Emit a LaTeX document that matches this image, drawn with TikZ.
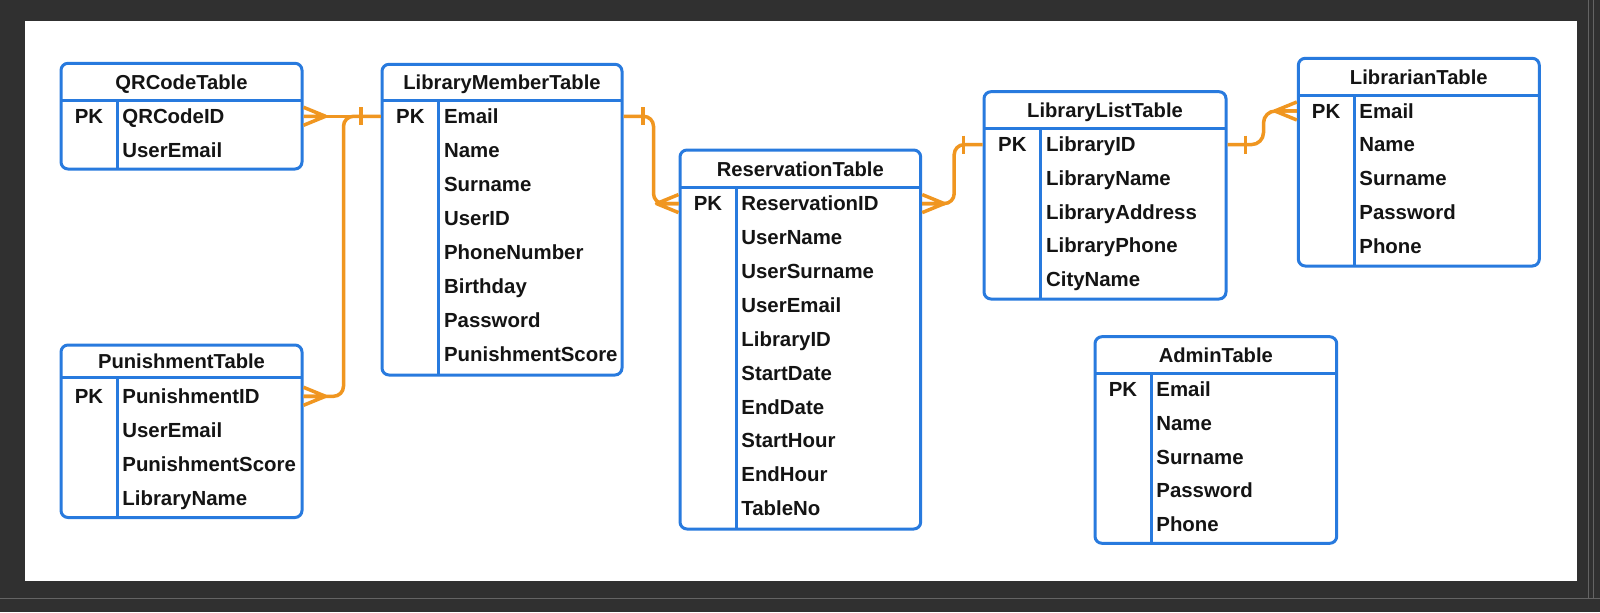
\documentclass[tikz,border=0pt]{standalone}
\usepackage{fontspec}
\setmainfont{Liberation Sans}
\usetikzlibrary{fit,calc}
\definecolor{tblblue}{RGB}{40,122,222}
\definecolor{relorange}{RGB}{240,150,32}
\definecolor{framebg}{RGB}{48,48,48}
\definecolor{framel}{RGB}{100,100,100}
\definecolor{ink}{RGB}{20,20,20}
\tikzset{
  tbl/.style={draw=tblblue, line width=1.5pt, rounded corners=3.5pt, fill=white, inner sep=0pt},
  tblline/.style={draw=tblblue, line width=1.5pt},
  hdr/.style={inner sep=0pt, text=ink, font=\fontsize{10.1pt}{12pt}\selectfont\bfseries},
  fld/.style={inner sep=0pt, text=ink, font=\fontsize{10.2pt}{12pt}\selectfont\bfseries},
  rel/.style={draw=relorange, line width=1.75pt, line join=round},
  crow/.pic={\draw[rel] (0,-9) -- (22,0) -- (0,9) (0,0) -- (22,0);},
}
\newcommand\ertable[8]{%
  \node[tbl, fit={(#2,#3)(#4,#5)}] (#1) {};
  \draw[tblline] (#2,#6) -- (#4,#6);
  \draw[tblline] (#7,#6) -- (#7,#5);
  \node[hdr, anchor=base] (#1-h) at ({(#2+#4)/2},{(#3+#6)/2+7.3}) {#8};
}
\newcommand\erfields[6]{%
  \node[fld, anchor=base] (#1-pk) at ({(#2+#3)/2},{#4+7.3}) {PK};
  \foreach \f [count=\i] in {#6}{
    \node[fld, anchor=base west] (#1-f\i) at ({#3+5},{#4+(\i-1)*#5+7.3}) {\f};
  }
}
\begin{document}
\begin{tikzpicture}[x=0.5pt,y=-0.5pt]
\useasboundingbox (0,0) rectangle (1600,612);
% window frame
\fill[framebg] (0,0) rectangle (1600,612);
\fill[white] (25,21) rectangle (1577,581);
\draw[framel, line width=0.5pt] (0,598) -- (1600,598);
\draw[framel, line width=0.5pt] (1588,0) -- (1588,598);
\draw[framel, line width=0.5pt] (1593,0) -- (1593,598);

% tables
\ertable{qr}{61}{63.3}{302}{169}{100.7}{117}{QRCodeTable}
\erfields{qr}{61}{117}{116}{34}{QRCodeID,UserEmail}

\ertable{lm}{382}{64.3}{622}{375}{100.7}{438.7}{LibraryMemberTable}
\erfields{lm}{382}{438.7}{116}{34}{Email,Name,Surname,UserID,PhoneNumber,Birthday,Password,PunishmentScore}

\ertable{pt}{61}{345}{302}{517.5}{377.6}{117}{PunishmentTable}
\erfields{pt}{61}{117}{396}{34}{PunishmentID,UserEmail,PunishmentScore,LibraryName}

\ertable{rs}{680}{150}{920.7}{529}{187.7}{736}{ReservationTable}
\erfields{rs}{680}{736}{203.3}{33.9}{ReservationID,UserName,UserSurname,UserEmail,LibraryID,StartDate,EndDate,StartHour,EndHour,TableNo}

\ertable{ll}{984}{91.7}{1226}{299}{128.3}{1040.7}{LibraryListTable}
\erfields{ll}{984}{1040.7}{144.3}{33.7}{LibraryID,LibraryName,LibraryAddress,LibraryPhone,CityName}

\ertable{lb}{1298.3}{58.3}{1539.3}{266}{95.7}{1354}{LibrarianTable}
\erfields{lb}{1298.3}{1354}{110.7}{33.75}{Email,Name,Surname,Password,Phone}

\ertable{ad}{1095}{336.7}{1336.7}{543.3}{373.3}{1151}{AdminTable}
\erfields{ad}{1095}{1151}{389.3}{33.75}{Email,Name,Surname,Password,Phone}

% relationships
\draw[rel] (qr.east |- qr-pk) -- (lm.west |- lm-pk);
\pic at (qr.east |- qr-pk) {crow};
\draw[rel] ($(lm.west |- lm-pk)+(-19.5,-9)$) -- ++(0,18);

\draw[rel, rounded corners=5pt] (pt.east |- pt-pk) -- ++(40,0) |- (lm.west |- lm-pk);
\pic at (pt.east |- pt-pk) {crow};

\draw[rel, rounded corners=5pt] (lm.east |- lm-pk) -- ++(30,0) |- (rs.west |- rs-pk);
\draw[rel] ($(lm.east |- lm-pk)+(19.5,-9)$) -- ++(0,18);
\pic[xscale=-1] at (rs.west |- rs-pk) {crow};

\draw[rel, rounded corners=5pt] (rs.east |- rs-pk) -- ++(32,0) |- (ll.west |- ll-pk);
\pic at (rs.east |- rs-pk) {crow};
\draw[rel] ($(ll.west |- ll-pk)+(-19,-9)$) -- ++(0,18);

\draw[rel, rounded corners=6pt] (ll.east |- ll-pk) -- ++(36,0) |- (lb.west |- lb-pk);
\draw[rel] ($(ll.east |- ll-pk)+(18,-9)$) -- ++(0,18);
\pic[xscale=-1] at (lb.west |- lb-pk) {crow};
\end{tikzpicture}
\end{document}
